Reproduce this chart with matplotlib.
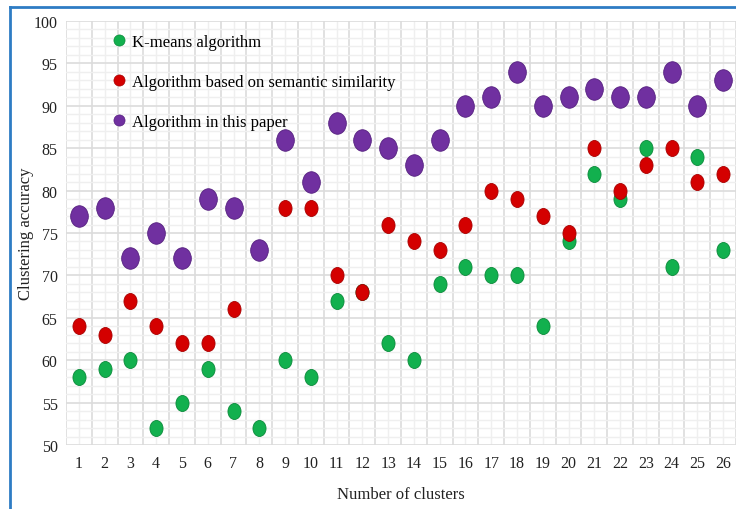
import numpy as np
import matplotlib
matplotlib.use("Agg")
import matplotlib.pyplot as plt
from matplotlib.path import Path
from matplotlib.transforms import Affine2D
from matplotlib.lines import Line2D

plt.rcParams['font.family'] = ['Liberation Serif', 'DejaVu Serif']

clusters = list(range(1, 27))
kmeans = [58, 59, 60, 52, 55, 59, 54, 52, 60, 58, 67, 68, 62, 60, 69, 71, 70, 70, 64, 74, 82, 79, 85, 71, 84, 73]
semantic = [64, 63, 67, 64, 62, 62, 66, np.nan, 78, 78, 70, 68, 76, 74, 73, 76, 80, 79, 77, 75, 85, 80, 83, 85, 81, 82]
proposed = [77, 78, 72, 75, 72, 79, 78, 73, 86, 81, 88, 86, 85, 83, 86, 90, 91, 94, 90, 91, 92, 91, 91, 94, 90, 93]
labels = ["K-means algorithm", "Algorithm based on semantic similarity", "Algorithm in this paper"]
colors = ["#12b04e", "#d40000", "#7030a0"]
edge_colors = ["#0a8a3a", "#a80000", "#55207f"]

ellipse = Path.unit_circle().transformed(Affine2D().scale(0.82, 1.0))

fig = plt.figure(figsize=(7.36, 5.10), dpi=100)
ax = fig.add_axes([66/736, 1-446/510, 1-66/736, (446-22)/510])

ax.set_xlim(0.5, 1 + (736-79)/26)
ax.set_ylim(50, 100)
ax.set_xticks(clusters)
ax.set_xticks(np.arange(1.5, 27, 1), minor=True)
ax.set_yticks(np.arange(50, 101, 5))
ax.set_yticks(np.arange(50, 101, 1), minor=True)
ax.tick_params(axis='both', which='both', length=0, labelsize=11.5, colors='#222222')
ax.tick_params(axis='x', pad=7)
ax.tick_params(axis='y', pad=6)

ax.grid(False)
ax.xaxis.grid(True, which='minor', color='#dcdcdc', lw=1.2)
ax.xaxis.grid(True, which='major', color='#efefef', lw=1.0)
ax.yaxis.grid(True, which='major', color='#dcdcdc', lw=1.2)
ax.yaxis.grid(True, which='minor', color='#efefef', lw=1.0)
ax.set_axisbelow(True)
for s in ax.spines.values():
    s.set_visible(False)
ax.axvline(0.5, color='#dcdcdc', lw=1.2, zorder=0)

series = [kmeans, semantic, proposed]
sizes = [11.5, 11.5, 15.5]
for vals, lab, c, ec, ms in zip(series, labels, colors, edge_colors, sizes):
    ax.plot(clusters, vals, linestyle='none', marker=ellipse, markersize=ms,
            markerfacecolor=c, markeredgecolor=ec, markeredgewidth=0.6, label=lab, zorder=3)

handles = [Line2D([], [], linestyle='none', marker='o', markersize=8,
                  markerfacecolor=c, markeredgecolor=ec, markeredgewidth=0.5)
           for c, ec in zip(colors, edge_colors)]
ax.legend(handles, labels, loc='upper left', bbox_to_anchor=(46/670, 1-13/424), frameon=False,
          fontsize=12, labelspacing=1.45, handlelength=0.8, handletextpad=0.4,
          borderpad=0, borderaxespad=0)

ax.set_xlabel("Number of clusters", fontsize=12, labelpad=11, color='#222222')
ax.set_ylabel("Clustering accuracy", fontsize=12, color='#222222')
ax.yaxis.set_label_coords((34-66)/670, 0.5)

fig.add_artist(Line2D([10/736, 1], [1-8/510, 1-8/510], transform=fig.transFigure, color='#2e7cc4', lw=2))
fig.add_artist(Line2D([10/736, 10/736], [0, 1-8/510], transform=fig.transFigure, color='#2e7cc4', lw=2))

fig.savefig("out.png", dpi=100)
